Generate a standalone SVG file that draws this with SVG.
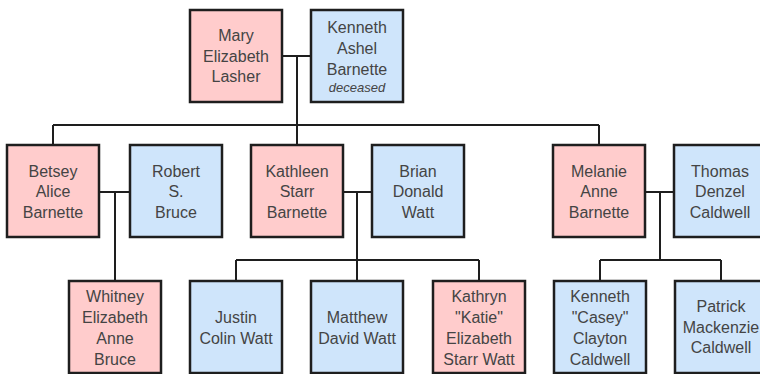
<svg xmlns="http://www.w3.org/2000/svg" width="760" height="374" viewBox="0 0 760 374">
<style>
.f{fill:#ffcccc;stroke:#1e1e1e;stroke-width:2.5}
.m{fill:#cfe5fb;stroke:#1e1e1e;stroke-width:2.5}
text{font-family:"Liberation Sans",Arial,sans-serif;font-size:16px;fill:#444;text-anchor:middle}
.d{font-size:13px;font-style:italic}
#links path{fill:none;stroke:#1e1e1e;stroke-width:2}
</style>
<rect width="760" height="374" fill="#fff"/>
<g id="links">
<path d="M282,56H311M297,56V125M53,125H599M53,125V145M297,125V145M599,125V145"/>
<path d="M99,192H130M115,192V281"/>
<path d="M343,192H372M357,192V281M236,260H479M236,260V281M479,260V281"/>
<path d="M645,192H674M660,192V260M600,260H721M600,260V281M721,260V281"/>
</g>
<g id="mary"><rect class="f" x="190" y="10" width="92" height="92"/><text x="236"><tspan x="236" y="41">Mary</tspan><tspan x="236" y="61.5">Elizabeth</tspan><tspan x="236" y="82">Lasher</tspan></text></g>
<g id="kenneth"><rect class="m" x="311" y="10" width="92" height="92"/><text x="357"><tspan x="357" y="32.5">Kenneth</tspan><tspan x="357" y="53.5">Ashel</tspan><tspan x="357" y="74.5">Barnette</tspan></text><text class="d" x="357" y="92">deceased</text></g>
<g id="betsey"><rect class="f" x="7" y="145" width="92" height="92"/><text><tspan x="53" y="176.5">Betsey</tspan><tspan x="53" y="197">Alice</tspan><tspan x="53" y="217.5">Barnette</tspan></text></g>
<g id="robert"><rect class="m" x="130" y="145" width="92" height="92"/><text><tspan x="176" y="176.5">Robert</tspan><tspan x="176" y="197">S.</tspan><tspan x="176" y="217.5">Bruce</tspan></text></g>
<g id="kathleen"><rect class="f" x="251" y="145" width="92" height="92"/><text><tspan x="297" y="176.5">Kathleen</tspan><tspan x="297" y="197">Starr</tspan><tspan x="297" y="217.5">Barnette</tspan></text></g>
<g id="brian"><rect class="m" x="372" y="145" width="92" height="92"/><text><tspan x="418" y="176.5">Brian</tspan><tspan x="418" y="197">Donald</tspan><tspan x="418" y="217.5">Watt</tspan></text></g>
<g id="melanie"><rect class="f" x="553" y="145" width="92" height="92"/><text><tspan x="599" y="176.5">Melanie</tspan><tspan x="599" y="197">Anne</tspan><tspan x="599" y="217.5">Barnette</tspan></text></g>
<g id="thomas"><rect class="m" x="674" y="145" width="92" height="92"/><text><tspan x="720" y="176.5">Thomas</tspan><tspan x="720" y="197">Denzel</tspan><tspan x="720" y="217.5">Caldwell</tspan></text></g>
<g id="whitney"><rect class="f" x="69" y="281" width="92" height="92"/><text><tspan x="115" y="301.5">Whitney</tspan><tspan x="115" y="322.5">Elizabeth</tspan><tspan x="115" y="343.5">Anne</tspan><tspan x="115" y="364.5">Bruce</tspan></text></g>
<g id="justin"><rect class="m" x="190" y="281" width="92" height="92"/><text><tspan x="236" y="322.5">Justin</tspan><tspan x="236" y="343.5">Colin Watt</tspan></text></g>
<g id="matthew"><rect class="m" x="311" y="281" width="92" height="92"/><text><tspan x="357" y="322.5">Matthew</tspan><tspan x="357" y="343.5">David Watt</tspan></text></g>
<g id="kathryn"><rect class="f" x="433" y="281" width="92" height="92"/><text><tspan x="479" y="301.5">Kathryn</tspan><tspan x="479" y="322.5">"Katie"</tspan><tspan x="479" y="343.5">Elizabeth</tspan><tspan x="479" y="364.5">Starr Watt</tspan></text></g>
<g id="casey"><rect class="m" x="554" y="281" width="92" height="92"/><text><tspan x="600" y="301.5">Kenneth</tspan><tspan x="600" y="322.5">"Casey"</tspan><tspan x="600" y="343.5">Clayton</tspan><tspan x="600" y="364.5">Caldwell</tspan></text></g>
<g id="patrick"><rect class="m" x="675" y="281" width="92" height="92"/><text><tspan x="721" y="312">Patrick</tspan><tspan x="721" y="332.5">Mackenzie</tspan><tspan x="721" y="353">Caldwell</tspan></text></g>
</svg>
